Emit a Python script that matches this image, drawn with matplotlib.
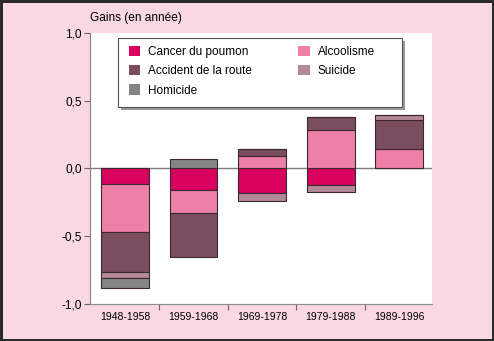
import matplotlib.pyplot as plt
from matplotlib.patches import Rectangle
import numpy as np

plt.rcParams['font.family'] = ['Liberation Sans', 'DejaVu Sans']

periods = ["1948-1958", "1959-1968", "1969-1978", "1979-1988", "1989-1996"]
causes = ["Cancer du poumon", "Alcoolisme", "Accident de la route", "Suicide", "Homicide"]
cancer = [-0.12, -0.16, -0.18, -0.125, 0.0]
alcool = [-0.355, -0.17, 0.09, 0.285, 0.14]
accident = [-0.295, -0.325, 0.05, 0.095, 0.22]
suicide = [-0.045, 0.0, -0.065, -0.05, 0.035]
homicide = [-0.07, 0.07, 0.0, 0.0, 0.0]
yticks = [1.0, 0.5, 0.0, -0.5, -1.0]

colors = {"Cancer du poumon": "#d9025f", "Alcoolisme": "#ee7fa8",
          "Accident de la route": "#7a4e5e", "Suicide": "#b58897",
          "Homicide": "#858585"}
bg = "#f9d8e3"

fig = plt.figure(figsize=(4.94, 3.41), dpi=100)
fig.patch.set_facecolor(bg)
fig.patch.set_edgecolor("#2a2a2a")
fig.patch.set_linewidth(2.5)

ax = fig.add_axes([90 / 494, 37.5 / 341, 342 / 494, 270.5 / 341])
ax.set_facecolor("white")

x = np.arange(len(periods))
pos = np.zeros(len(periods))
neg = np.zeros(len(periods))
handles = {}
for name, vals in zip(causes, [cancer, alcool, accident, suicide, homicide]):
    vals = np.array(vals)
    bottom = np.where(vals >= 0, pos, neg)
    b = ax.bar(x, vals, bottom=bottom, width=0.7, color=colors[name],
               edgecolor="#3a2a30", linewidth=0.8, zorder=3)
    handles[name] = b
    pos += np.where(vals > 0, vals, 0)
    neg += np.where(vals < 0, vals, 0)

ax.axhline(0, color="#7f7f7f", linewidth=1, zorder=2)
ax.set_xlim(-0.51, 4.48)
ax.set_ylim(-1, 1)

ax.set_yticks(yticks)
ax.set_yticklabels([f"{v:.1f}".replace(".", ",") for v in yticks])
ax.set_xticks(x[:-1] + 0.5)
ax.set_xticklabels([])
ax.set_xticks(x, minor=True)
ax.set_xticklabels(periods, minor=True)
ax.tick_params(axis="x", which="major", length=4, color="#666666", direction="out")
ax.tick_params(axis="x", which="minor", length=0, pad=6, labelsize=7.5)
ax.tick_params(axis="y", length=4, color="#666666", pad=2, labelsize=8.6)

for s in ["top", "right"]:
    ax.spines[s].set_visible(False)
ax.spines["left"].set_color("#8c7d85")
ax.spines["bottom"].set_color("#8a8a8a")

fig.text(90 / 494, 1 - 18 / 341, "Gains (en année)", fontsize=8.6, va="center", ha="left")

# legend frame with shadow
fig.patches.append(Rectangle((121 / 494, 1 - 110 / 341), 284 / 494, 69 / 341,
                             transform=fig.transFigure, facecolor="#9a9a9a",
                             edgecolor="none", zorder=4))
fig.patches.append(Rectangle((118 / 494, 1 - 107 / 341), 284 / 494, 69 / 341,
                             transform=fig.transFigure, facecolor="white",
                             edgecolor="#555555", linewidth=0.8, zorder=5))

order = ["Cancer du poumon", "Accident de la route", "Homicide", "Alcoolisme", "Suicide"]
leg = fig.legend([handles[n] for n in order], order, ncol=2, frameon=False,
                 loc="upper left", bbox_to_anchor=(129 / 494, 1 - 46 / 341),
                 borderaxespad=0, borderpad=0, fontsize=8.5,
                 handlelength=0.95, handleheight=0.95, handletextpad=0.7,
                 labelspacing=0.6, columnspacing=3.9)
leg.set_zorder(6)
for h in leg.legend_handles:
    h.set_edgecolor("none")

fig.savefig("out.png", dpi=100, facecolor=fig.get_facecolor(), edgecolor=fig.get_edgecolor())
